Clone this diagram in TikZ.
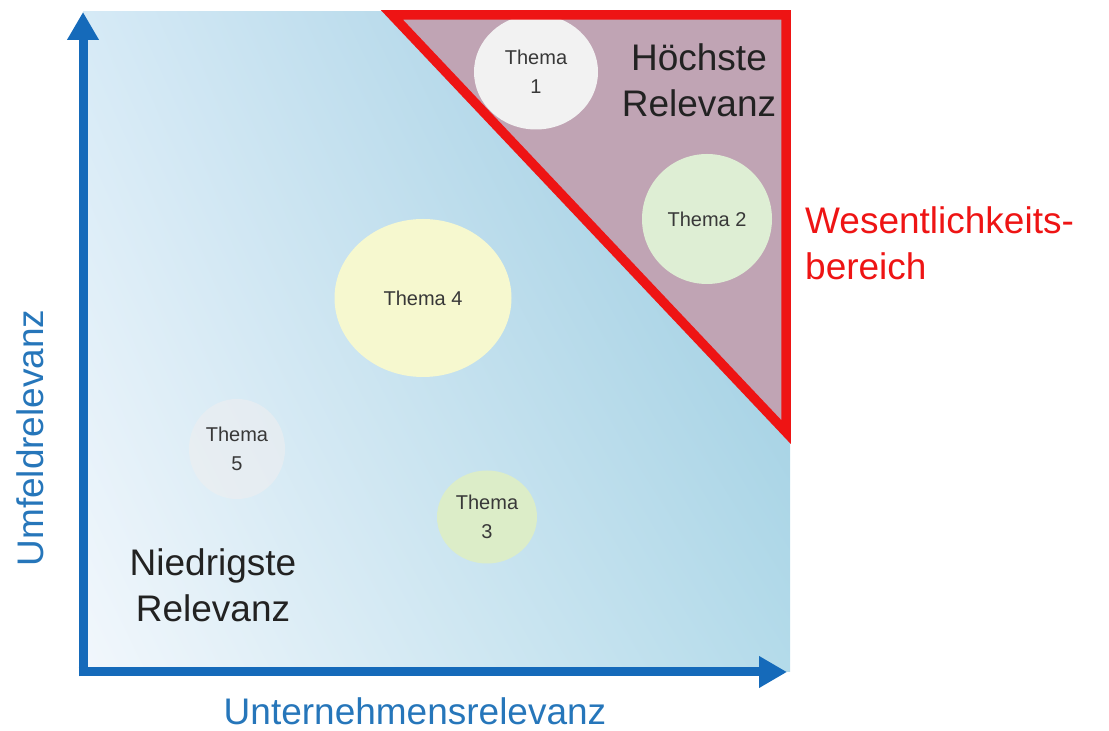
\documentclass[tikz,border=0pt]{standalone}
\usepackage{fontspec}
\setmainfont{Liberation Sans}
\usetikzlibrary{arrows.meta,shadings,shapes.geometric}
\definecolor{axisblue}{RGB}{21,106,186}
\definecolor{labelblue}{RGB}{38,118,186}
\definecolor{zonered}{RGB}{238,20,20}
\definecolor{zonefill}{RGB}{192,164,180}
\definecolor{bgll}{RGB}{242,247,252}
\definecolor{bgul}{RGB}{214,234,246}
\definecolor{bglr}{RGB}{180,219,234}
\definecolor{bgur}{RGB}{150,200,222}
\definecolor{tgrey}{RGB}{242,242,242}
\definecolor{tgreen}{RGB}{222,238,212}
\definecolor{tyellow}{RGB}{246,248,207}
\definecolor{tfaint}{RGB}{238,238,240}
\definecolor{tgreen3}{RGB}{220,237,200}
\definecolor{textdark}{RGB}{34,34,34}
\tikzset{
  bubble/.style={ellipse, inner sep=0pt, draw=none, font=\fontsize{20}{29}\selectfont, text=textdark!90, align=center},
  bigtext/.style={font=\fontsize{37}{46}\selectfont, align=center, inner sep=0pt},
  axisarrow/.style={line width=9pt, draw=axisblue, -{Triangle[length=28pt,width=30pt]}}
}
\begin{document}
\begin{tikzpicture}[x=1pt,y=1pt]
\useasboundingbox (0,0) rectangle (1109,731);
% background square
\shade[lower left=bgll, upper left=bgul, lower right=bglr, upper right=bgur] (83,59) rectangle (790,719);
% zone triangle
\coordinate (TA) at (392,716);
\coordinate (TB) at (786,716);
\coordinate (TC) at (786,299);
\fill[zonefill] (TA) -- (TB) -- (TC) -- cycle;
% bubbles
\node[bubble, fill=tgrey, minimum width=124pt, minimum height=115pt] (t1) at (536,659) {Thema\\1};
\draw[zonered, line width=9.5pt, line join=miter] (TA) -- (TB) -- (TC) -- cycle;
\node[bubble, fill=tgreen, minimum width=130pt, minimum height=130pt] (t2) at (707,512) {Thema 2};
\node[bubble, fill=tyellow, minimum width=177pt, minimum height=158pt] (t4) at (423,433) {Thema 4};
\node[bubble, fill=tfaint, fill opacity=0.6, text opacity=1, minimum width=96pt, minimum height=100pt] (t5) at (237,282) {Thema\\5};
\node[bubble, fill=tgreen3, minimum width=100pt, minimum height=93pt] (t3) at (487,214) {Thema\\3};
% region labels
\node[bigtext, text=textdark] (hoch) at (699,651) {Höchste\\Relevanz};
\node[bigtext, text=textdark] (nied) at (213,146) {Niedrigste\\Relevanz};
\node[bigtext, text=zonered, align=left, anchor=west] (wes) at (805,488) {Wesentlichkeits-\\bereich};
% axes
\coordinate (O) at (83,59);
\coordinate (Y) at (83,719);
\coordinate (X) at (787,59);
\draw[axisarrow] ([yshift=-4.5pt]O) -- (Y);
\draw[axisarrow] ([xshift=-4.5pt]O) -- (X);
% axis labels
\node[bigtext, text=labelblue] (xlab) at (415,20) {Unternehmensrelevanz};
\node[bigtext, text=labelblue, rotate=90] (ylab) at (30,293) {Umfeldrelevanz};
\end{tikzpicture}
\end{document}
